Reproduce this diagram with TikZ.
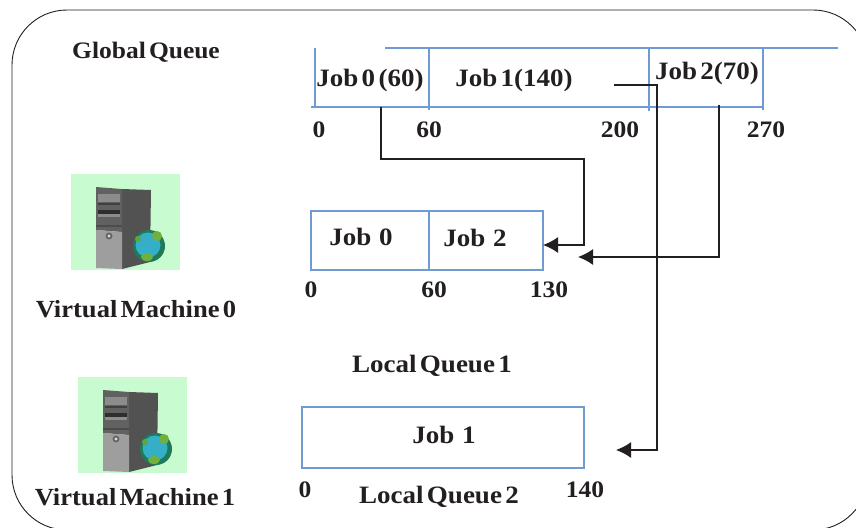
\documentclass[tikz,border=0pt]{standalone}
\usepackage{fontspec}
\setmainfont[FakeStretch=1.08,WordSpace=0.5]{Liberation Serif}
\usetikzlibrary{arrows.meta,positioning}
\definecolor{qblue}{HTML}{6F9BD2}
\definecolor{qink}{HTML}{231F20}
\definecolor{iconbg}{HTML}{C8FCD0}
\tikzset{
  x=1pt,y=-1pt,
  lbl/.style={anchor=base,inner sep=0pt,text=qink,font=\fontsize{23.6}{25}\selectfont\bfseries},
  lblwide/.style={lbl,font=\fontsize{25}{26}\selectfont\bfseries},
  lblvm/.style={lbl,font=\fontsize{24.6}{26}\selectfont\bfseries},
  qline/.style={draw=qblue,line width=1.4pt},
  qbox/.style={draw=qblue,line width=1.4pt,inner sep=0pt,fill=none},
  link/.style={draw=qink,line width=1.5pt},
  linkarrow/.style={link,-{Latex[length=15pt,width=16pt]}},
  HTML/.code={\definecolor{tmpicon}{HTML}{#1}\pgfkeysalso{color=tmpicon}},
  servericon/.pic={
    \fill[iconbg] (0,0) rectangle (109,96);
    \fill[black!68] (51,15) -- (80,16) -- (79,88) -- (51,95) -- cycle;
    \fill[black!62] (25,13) -- (51,15) -- (51,58) -- (25,56) -- cycle;
    \fill[black!38] (25,56) -- (51,58) -- (51,95) -- (25,94) -- cycle;
    \fill[black!45] (27,20) rectangle (49,28);
    \fill[black!75] (27,29) rectangle (49,31);
    \fill[black!45] (27,40) rectangle (49,43);
    \fill[black!82] (27,36) rectangle (49,40);
    \fill[black!70] (25,51) rectangle (51,53);
    \fill[black!60] (38,62) circle (3.5);
    \fill[black!15] (38,62) circle (1.7);
    \fill[HTML=1F7A5A] (78,72) circle (16);
    \fill[HTML=35AFC8] (77,71) circle (12.5);
    \fill[HTML=6FB13C] (86,62) circle (5);
    \fill[HTML=6FB13C] (76,83) ellipse (6 and 4);
    \fill[HTML=5FA63C] (67,65) circle (3);
  }
}
\begin{document}
\begin{tikzpicture}
\useasboundingbox (0,0) rectangle (856,527);
\begin{scope}
\clip (0,0) rectangle (856,527);
\fill[white] (0,0) rectangle (856,527);
\draw[qink,line width=0.9pt,rounded corners=55pt] (12,10) rectangle (868,530);
\end{scope}

% icons
\pic at (71,174) {servericon};
\pic at (78,377) {servericon};

% global queue
\coordinate (gqtl) at (385,48);
\coordinate (gqtr) at (838,48);
\coordinate (gqa) at (315,48);
\coordinate (gqb) at (315,107);
\coordinate (gqbl) at (311,107);
\coordinate (gqbr) at (763,107);
\coordinate (d1t) at (429,48);
\coordinate (d1b) at (429,110);
\coordinate (d2t) at (649,48);
\coordinate (d2b) at (649,111);
\coordinate (d3t) at (763,48);
\coordinate (d3b) at (763,110);
\draw[qline] (gqtl) -- (gqtr);
\draw[qline] (gqa) -- (gqb);
\draw[qline] (gqbl) -- (gqbr);
\draw[qline] (d1t) -- (d1b);
\draw[qline] (d2t) -- (d2b);
\draw[qline] (d3t) -- (d3b);

% local queues
\node[qbox,minimum width=232pt,minimum height=59pt] (lq0) at (427,240.5) {};
\coordinate (lq0dt) at (429,211);
\coordinate (lq0db) at (429,270);
\draw[qline] (lq0dt) -- (lq0db);
\node[qbox,minimum width=282pt,minimum height=61pt] (lq1) at (443,437.5) {};

% labels
\node[lbl] (tgq) at (146,59) {Global Queue};
\node[lblwide] (tj0) at (370,86) {Job 0 (60)};
\node[lblwide] (tj1) at (514,86) {Job 1(140)};
\node[lblwide] (tj2) at (707,79) {Job 2(70)};
\node[lbl] (n0) at (319,137) {0};
\node[lbl] (n60) at (429,137) {60};
\node[lbl] (n200) at (620,137) {200};
\node[lbl] (n270) at (766,137) {270};
\node[lblwide] (tl0) at (361,245) {Job\, 0};
\node[lblwide] (tl2) at (475,246) {Job\, 2};
\node[lbl] (m0) at (311,297) {0};
\node[lbl] (m60) at (434,297) {60};
\node[lbl] (m130) at (549,297) {130};
\node[lblvm] (vm0) at (136,317) {Virtual Machine 0};
\node[lblwide] (lq1t) at (432,372) {Local Queue 1};
\node[lblwide] (tl1) at (444,443) {Job\, 1};
\node[lbl] (k0) at (305,497) {0};
\node[lblwide] (lq2t) at (439,503) {Local Queue 2};
\node[lbl] (k140) at (585,497) {140};
\node[lblvm] (vm1) at (135,505) {Virtual Machine 1};

% connectors
\coordinate (s0) at (381,107);
\coordinate (e0) at (543,245);
\coordinate (s2) at (719,105);
\coordinate (e2) at (578,257);
\coordinate (s1) at (614,85);
\coordinate (e1) at (616,450);
\draw[linkarrow] (s0) -- (381,159) -- (584,159) -- (584,245) -- (e0);
\draw[linkarrow] (s2) -- (719,257) -- (e2);
\draw[linkarrow] (s1) -- (657,85) -- (657,450) -- (e1);
\end{tikzpicture}
\end{document}
